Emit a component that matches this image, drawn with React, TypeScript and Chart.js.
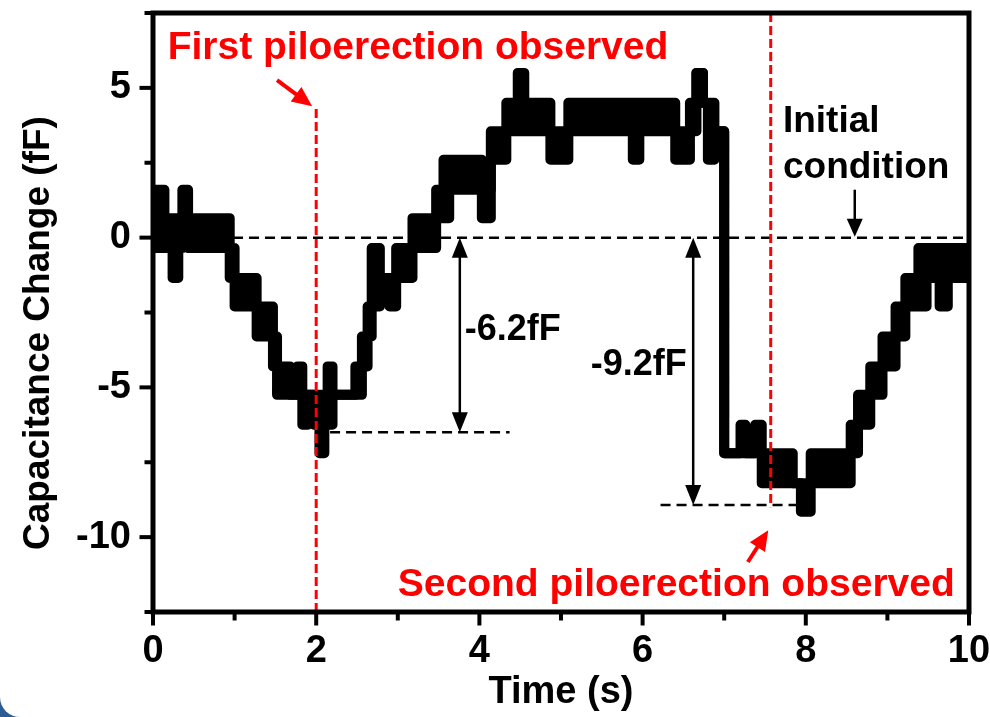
import React, { useEffect, useRef } from "react";
import { Chart, registerables } from "chart.js";

Chart.register(...registerables);

const FONT = '"Liberation Sans", Arial, Helvetica, sans-serif';

// Step start times (s) of the recorded capacitance trace
const timeS = [
  0.0, 0.14, 0.24, 0.31, 0.36, 0.43, 0.94, 1.0, 1.27, 1.47, 1.52, 1.68, 1.77, 1.83, 1.9, 1.97,
  2.04, 2.1, 2.14, 2.2, 2.48, 2.56, 2.63, 2.68, 2.78, 2.9, 2.98, 3.18, 3.47, 3.56, 3.63, 4.03,
  4.14, 4.33, 4.47, 4.55, 4.87, 5.09, 5.88, 5.96, 6.4, 6.58, 6.66, 6.74, 6.8, 6.88, 7.0, 7.2,
  7.26, 7.38, 7.46, 7.84, 7.94, 8.06, 8.55, 8.64, 8.79, 8.94, 9.1, 9.22, 9.38, 9.48, 9.64, 9.74,
  10.0,
];
// Upper level of the (noisy) trace in each step (fF)
const upperFF = [
  1.6, 0.65, 0.65, 0.65, 1.6, 0.65, -0.35, -1.35, -2.3, -3.3, -4.3, -5.25, -4.3, -5.25, -5.25, -5.25,
  -5.25, -5.25, -4.3, -5.25, -4.3, -3.3, -2.3, -0.35, -1.35, -1.35, -0.35, 0.65, 1.6, 2.6, 2.6, 1.6,
  3.55, 4.5, 5.5, 4.5, 3.55, 4.5, 4.5, 4.5, 3.55, 4.5, 5.5, 4.5, 4.5, 3.55, -7.2, -6.25,
  -7.2, -6.25, -7.2, -8.2, -8.2, -7.2, -6.25, -5.25, -4.3, -3.3, -2.3, -1.35, -0.35, -0.35, -0.35, -0.35,
  -0.35,
];
// Lower level of the (noisy) trace in each step (fF)
const lowerFF = [
  -0.35, -0.35, -1.35, -0.35, 0.65, -0.35, -1.35, -2.3, -3.3, -4.3, -5.25, -5.25, -5.25, -6.25, -5.25, -6.25,
  -7.2, -6.25, -6.25, -5.25, -5.25, -4.3, -3.3, -2.3, -1.35, -2.3, -1.35, -0.35, 0.65, 0.65, 1.6, 0.65,
  2.6, 3.55, 3.55, 3.55, 2.6, 3.55, 2.6, 3.55, 2.6, 3.55, 5.5, 4.5, 2.6, 3.55, -7.2, -7.2,
  -7.2, -7.2, -8.2, -8.2, -9.15, -8.2, -7.2, -6.25, -5.25, -4.3, -3.3, -2.3, -2.3, -1.35, -2.3, -1.35,
  -1.35,
];

const xLabelled = [0, 2, 4, 6, 8, 10];
const yLabelled = [-10, -5, 0, 5];

// Annotation anchors (data units)
const firstObservedT = 2.0;
const firstObservedTop = 4.36;
const secondObservedT = 7.57;
const secondObservedBottom = -9.0;
const dropOneT = 3.76;
const dropOneFF = -6.5;
const dropOneSpan = [2.17, 4.37];
const dropTwoT = 6.62;
const dropTwoFF = -8.93;
const dropTwoSpan = [6.22, 8.0];

function arrowHead(ctx: any, fx: number, fy: number, tx: number, ty: number, len: number, half: number) {
  const a = Math.atan2(ty - fy, tx - fx);
  const bx = tx - len * Math.cos(a);
  const by = ty - len * Math.sin(a);
  ctx.beginPath();
  ctx.moveTo(tx, ty);
  ctx.lineTo(bx + half * Math.sin(a), by - half * Math.cos(a));
  ctx.lineTo(bx - half * Math.sin(a), by + half * Math.cos(a));
  ctx.closePath();
  ctx.fill();
}

function arrow(ctx: any, x1: number, y1: number, x2: number, y2: number, len: number, half: number, color: string, lw: number, both: boolean) {
  ctx.save();
  ctx.setLineDash([]);
  ctx.strokeStyle = color;
  ctx.fillStyle = color;
  ctx.lineWidth = lw;
  const a = Math.atan2(y2 - y1, x2 - x1);
  const c = Math.cos(a), s = Math.sin(a);
  const sx = both ? x1 + len * 0.7 * c : x1;
  const sy = both ? y1 + len * 0.7 * s : y1;
  ctx.beginPath();
  ctx.moveTo(sx, sy);
  ctx.lineTo(x2 - len * 0.7 * c, y2 - len * 0.7 * s);
  ctx.stroke();
  arrowHead(ctx, x1, y1, x2, y2, len, half);
  if (both) arrowHead(ctx, x2, y2, x1, y1, len, half);
  ctx.restore();
}

function text(ctx: any, str: string, x: number, y: number, align: string, color: string, size: number) {
  ctx.save();
  ctx.font = `bold ${size}px ${FONT}`;
  ctx.fillStyle = color;
  ctx.textAlign = align;
  ctx.textBaseline = "middle";
  ctx.fillText(str, x, y);
  ctx.restore();
}

const decor = {
  id: "decor",
  afterDatasetsDraw(chart: any) {
    const { ctx, chartArea: a, scales } = chart;
    const x = scales.x;
    const y = scales.y;
    const px = (v: number) => x.getPixelForValue(v);
    const py = (v: number) => y.getPixelForValue(v);
    ctx.save();
    // frame
    ctx.strokeStyle = "#000";
    ctx.lineWidth = 5;
    ctx.setLineDash([]);
    ctx.strokeRect(a.left, a.top, a.right - a.left, a.bottom - a.top);
    // outward ticks
    ctx.lineWidth = 4;
    x.ticks.forEach((t: any) => {
      const p = px(t.value);
      const major = xLabelled.includes(t.value);
      ctx.beginPath();
      ctx.moveTo(p, a.bottom);
      ctx.lineTo(p, a.bottom + 2.5 + (major ? 11 : 6));
      ctx.stroke();
    });
    y.ticks.forEach((t: any) => {
      const p = py(t.value);
      const major = yLabelled.includes(t.value);
      ctx.beginPath();
      ctx.moveTo(a.left, p);
      ctx.lineTo(a.left - 2.5 - (major ? 11 : 6), p);
      ctx.stroke();
    });
    ctx.restore();

    // arrows
    arrow(ctx, px(1.52), py(5.26), px(1.95), py(4.39), 20, 9, "#ff0000", 4, false);
    arrow(ctx, px(7.29), py(-10.83), px(7.54), py(-9.77), 20, 9, "#ff0000", 4, false);
    arrow(ctx, px(8.6), py(1.6), px(8.6), py(0.03), 18, 8, "#000", 2.5, false);
    arrow(ctx, px(dropOneT), py(0), px(dropOneT), py(dropOneFF), 20, 8, "#000", 2.5, true);
    arrow(ctx, px(dropTwoT), py(0), px(dropTwoT), py(dropTwoFF), 20, 8, "#000", 2.5, true);

    // texts
    text(ctx, "First piloerection observed", px(0.18), py(6.33), "left", "#ff0000", 39);
    text(ctx, "Second piloerection observed", px(3.0), py(-11.6), "left", "#ff0000", 39);
    text(ctx, "Initial", px(7.72), py(3.86), "left", "#000", 37);
    text(ctx, "condition", px(7.72), py(2.32), "left", "#000", 37);
    text(ctx, "-6.2fF", px(3.82), py(-3.1), "left", "#000", 36);
    text(ctx, "-9.2fF", px(6.54), py(-4.25), "right", "#000", 36);
  },
};

export default function App() {
  const ref = useRef<HTMLCanvasElement>(null);
  useEffect(() => {
    document.body.style.margin = "0";
    document.body.style.background = "#2d5b93";
    const canvas = ref.current as HTMLCanvasElement;
    const upper = timeS.map((t, i) => ({ x: t, y: upperFF[i] }));
    const lower = timeS.map((t, i) => ({ x: t, y: lowerFF[i] }));
    const tickFont = { family: FONT, size: 38, weight: "bold" as const };
    const chart = new Chart(canvas, {
      type: "line",
      data: {
        datasets: [
          {
            data: [{ x: firstObservedT, y: -12.5 }, { x: firstObservedT, y: firstObservedTop }],
            borderColor: "#ff0000",
            borderWidth: 3,
            borderDash: [9, 4],
            pointRadius: 0,
            order: 0,
          },
          {
            data: [{ x: secondObservedT, y: 7.5 }, { x: secondObservedT, y: secondObservedBottom }],
            borderColor: "#ff0000",
            borderWidth: 3,
            borderDash: [9, 4],
            pointRadius: 0,
            order: 0,
          },
          {
            data: upper,
            stepped: true,
            borderColor: "#000",
            borderWidth: 10,
            borderJoinStyle: "round",
            borderCapStyle: "round",
            pointRadius: 0,
            fill: false,
            order: 5,
          },
          {
            data: lower,
            stepped: true,
            borderColor: "#000",
            backgroundColor: "#000",
            borderWidth: 10,
            borderJoinStyle: "round",
            borderCapStyle: "round",
            pointRadius: 0,
            fill: "-1",
            order: 5,
          },
          {
            data: [{ x: 0, y: 0 }, { x: 10, y: 0 }],
            borderColor: "#000",
            borderWidth: 2.5,
            borderDash: [10, 6],
            pointRadius: 0,
            order: 10,
          },
          {
            data: [{ x: dropOneSpan[0], y: dropOneFF }, { x: dropOneSpan[1], y: dropOneFF }],
            borderColor: "#000",
            borderWidth: 2.5,
            borderDash: [10, 6],
            pointRadius: 0,
            order: 10,
          },
          {
            data: [{ x: dropTwoSpan[0], y: dropTwoFF }, { x: dropTwoSpan[1], y: dropTwoFF }],
            borderColor: "#000",
            borderWidth: 2.5,
            borderDash: [10, 6],
            pointRadius: 0,
            order: 10,
          },
        ],
      },
      options: {
        responsive: false,
        animation: false,
        events: [],
        layout: { padding: { left: 0, right: 21, top: 13, bottom: 0 } },
        plugins: { legend: { display: false }, tooltip: { enabled: false } },
        scales: {
          x: {
            type: "linear",
            min: 0,
            max: 10,
            afterFit: (s: any) => {
              s.height = 105;
              s.paddingLeft = 0;
              s.paddingRight = 0;
            },
            grid: { display: false, drawTicks: false },
            border: { display: false },
            ticks: {
              stepSize: 1,
              autoSkip: false,
              maxRotation: 0,
              color: "#000",
              font: tickFont,
              padding: 17,
              callback: (v: any) => (xLabelled.includes(v) ? String(v) : ""),
            },
            title: {
              display: true,
              text: "Time (s)",
              color: "#000",
              font: { family: FONT, size: 38, weight: "bold" },
              padding: { top: 0, bottom: 2 },
            },
          },
          y: {
            type: "linear",
            min: -12.5,
            max: 7.5,
            afterFit: (s: any) => {
              s.width = 153;
              s.paddingTop = 0;
              s.paddingBottom = 0;
            },
            grid: { display: false, drawTicks: false },
            border: { display: false },
            ticks: {
              stepSize: 2.5,
              autoSkip: false,
              color: "#000",
              font: tickFont,
              padding: 22,
              callback: (v: any) => (yLabelled.includes(v) ? String(v) : ""),
            },
            title: {
              display: true,
              text: "Capacitance Change (fF)\u00a0\u00a0\u00a0\u00a0",
              color: "#000",
              font: { family: FONT, size: 37, weight: "bold" },
              padding: { top: 17, bottom: 0 },
            },
          },
        },
      },
      plugins: [decor],
    });
    return () => chart.destroy();
  }, []);
  return (
    <div style={{ width: 990, height: 717, background: "#fff", borderBottomLeftRadius: 20, overflow: "hidden" }}>
      <canvas ref={ref} width={990} height={717} style={{ display: "block" }} />
    </div>
  );
}
